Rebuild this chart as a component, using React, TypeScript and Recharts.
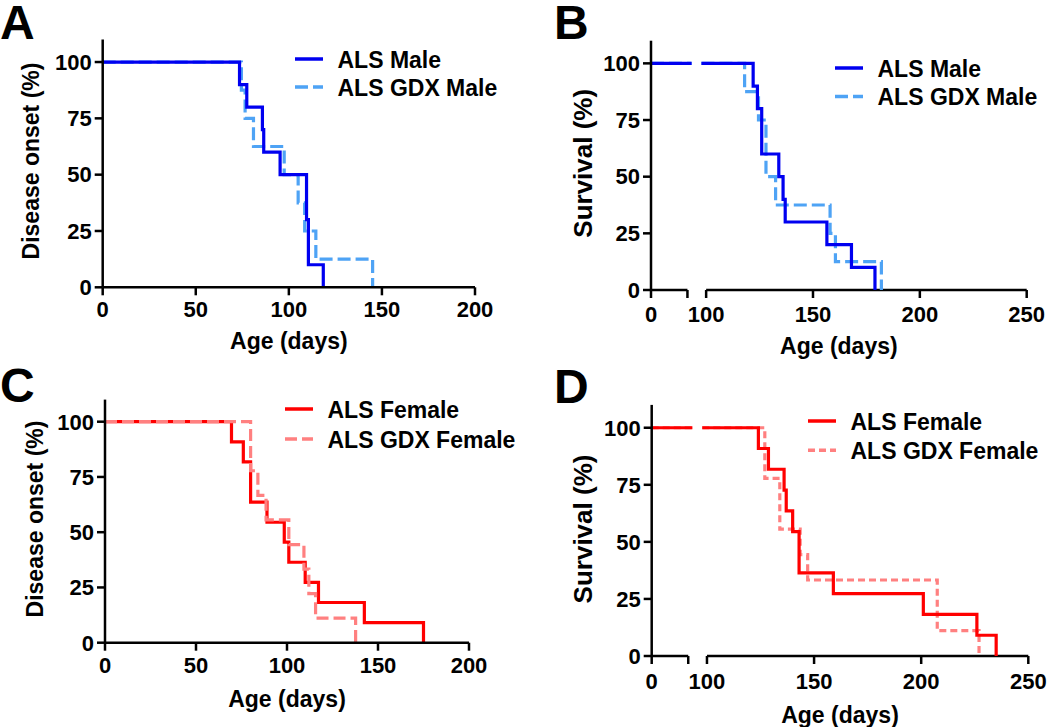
import React from 'react';
import { LineChart, Line, XAxis, YAxis, Legend, Label, ReferenceLine } from 'recharts';

const FONT = '"Liberation Sans", Arial, Helvetica, sans-serif';

// A – disease onset, males (age in days, % still without onset)
const onsetMaleDays = [0, 73.5, 77.4, 85.8, 86.5, 95.3, 109.5, 110.5, 118.5];
const onsetMalePct = [100, 90, 80, 70, 60, 50, 30, 10, 0];
const onsetGdxMaleDays = [0, 74.5, 76.5, 81, 97.5, 105, 108.5, 114.5, 145];
const onsetGdxMalePct = [100, 87.5, 75, 62.5, 50, 37.5, 25, 12.5, 0];

// B – survival, males
const survMaleDays = [0, 122, 124, 126, 134, 136, 137, 156.5, 168, 179];
const survMalePct = [100, 90, 80, 60, 50, 40, 30, 20, 10, 0];
const survGdxMaleDays = [0, 118, 124.5, 128, 132.5, 158, 160.5, 182];
const survGdxMalePct = [100, 87.5, 75, 50, 37.5, 25, 12.5, 0];

// C – disease onset, females
const onsetFemaleDays = [0, 69.5, 76, 80, 89, 98.5, 101, 110, 117.3, 142.5, 175];
const onsetFemalePct = [100, 90.9, 81.8, 63.6, 54.5, 45.5, 36.4, 27.3, 18.2, 9.1, 0];
const onsetGdxFemaleDays = [0, 80, 84, 88.5, 101, 109.3, 112, 115.7, 137.7];
const onsetGdxFemalePct = [100, 77.8, 66.7, 55.6, 44.4, 33.3, 22.2, 11.1, 0];

// D – survival, females
const survFemaleDays = [0, 124, 128.7, 136, 137, 140, 143, 159, 201, 226, 235];
const survFemalePct = [100, 90.9, 81.8, 72.7, 63.6, 54.5, 36.4, 27.3, 18.2, 9.1, 0];
const survGdxFemaleDays = [0, 127, 134, 143.5, 147, 207.5, 227];
const survGdxFemalePct = [100, 77.8, 55.6, 44.4, 33.3, 11.1, 0];

const yTicks = [0, 25, 50, 75, 100];
const onsetXTicks = [0, 50, 100, 150, 200];
const survXTicks = [100, 150, 200, 250];

// survival panels use a broken x axis: a short stub for day 0, then 100–250
const STUB_START = 74.2;
const STUB_END = 91.25;
const LINE_GAP = [93.2, 97.8];

const BLUE = '#0000f0';
const LIGHT_BLUE = '#4ea3f5';
const RED = '#ff0000';
const LIGHT_RED = '#ff8080';

type Pt = { x: number; y: number | null };

function kmPoints(days: number[], pct: number[], broken: boolean): Pt[] {
  const pts: Pt[] = days.map((d, i) => ({ x: d, y: pct[i] }));
  if (!broken) return pts;
  const [first, ...rest] = pts;
  return [
    { x: STUB_START, y: first.y },
    { x: LINE_GAP[0], y: first.y },
    { x: (LINE_GAP[0] + LINE_GAP[1]) / 2, y: null },
    { x: LINE_GAP[1], y: first.y },
    ...rest,
  ];
}

type Series = { name: string; days: number[]; pct: number[]; color: string; dash?: string };

type Panel = {
  letter: string;
  left: number;
  top: number;
  height: number;
  margin: { top: number; right: number; bottom: number; left: number };
  broken: boolean;
  yTitle: string;
  yTitleSize: number;
  yTitleX: number;
  yTitleY: number;
  xTitleY: number;
  xTickMargin: number;
  legendX: number;
  legendY: number;
  legendGap: number;
  solidOnTop: boolean;
  series: Series[];
};

const panels: Panel[] = [
  {
    letter: 'A', left: 0, top: 0, height: 363,
    margin: { top: 39.5, right: 50, bottom: 75.7, left: 102.7 },
    broken: false, yTitle: 'Disease onset (%)', yTitleSize: 23, yTitleX: 38.5, yTitleY: 161,
    xTitleY: 348.5, xTickMargin: 6, legendX: 295, legendY: 47.3, legendGap: 28, solidOnTop: true,
    series: [
      { name: 'ALS Male', days: onsetMaleDays, pct: onsetMalePct, color: BLUE },
      { name: 'ALS GDX Male', days: onsetGdxMaleDays, pct: onsetGdxMalePct, color: LIGHT_BLUE, dash: '13 5' },
    ],
  },
  {
    letter: 'B', left: 525, top: 0, height: 363,
    margin: { top: 40.7, right: 23.3, bottom: 73, left: 126 },
    broken: true, yTitle: 'Survival (%)', yTitleSize: 26, yTitleX: 67, yTitleY: 163.3,
    xTitleY: 353.5, xTickMargin: 8, legendX: 310, legendY: 56.3, legendGap: 28.4, solidOnTop: true,
    series: [
      { name: 'ALS Male', days: survMaleDays, pct: survMalePct, color: BLUE },
      { name: 'ALS GDX Male', days: survGdxMaleDays, pct: survGdxMalePct, color: LIGHT_BLUE, dash: '13 5' },
    ],
  },
  {
    letter: 'C', left: 0, top: 363, height: 364,
    margin: { top: 36.6, right: 56, bottom: 84.3, left: 105 },
    broken: false, yTitle: 'Disease onset (%)', yTitleSize: 23, yTitleX: 42.5, yTitleY: 156,
    xTitleY: 343.5, xTickMargin: 7, legendX: 285, legendY: 34.3, legendGap: 30, solidOnTop: false,
    series: [
      { name: 'ALS Female', days: onsetFemaleDays, pct: onsetFemalePct, color: RED },
      { name: 'ALS GDX Female', days: onsetGdxFemaleDays, pct: onsetGdxFemalePct, color: LIGHT_RED, dash: '12 5' },
    ],
  },
  {
    letter: 'D', left: 525, top: 363, height: 364,
    margin: { top: 41.9, right: 21.7, bottom: 71, left: 126.7 },
    broken: true, yTitle: 'Survival (%)', yTitleSize: 26, yTitleX: 67, yTitleY: 166,
    xTitleY: 360.2, xTickMargin: 9, legendX: 282.7, legendY: 45.7, legendGap: 29.3, solidOnTop: true,
    series: [
      { name: 'ALS Female', days: survFemaleDays, pct: survFemalePct, color: RED },
      { name: 'ALS GDX Female', days: survGdxFemaleDays, pct: survGdxFemalePct, color: LIGHT_RED, dash: '7 4' },
    ],
  },
];

const W = 525;
// axes get a 1px box; the plot margins below are reduced by that pixel
const AXIS_BOX = 1;
const tickStyle = { fill: '#000', fontSize: 22, fontWeight: 'bold' as const, fontFamily: FONT };
const axisStroke = { stroke: '#000', strokeWidth: 2.5 };

function LegendBox({ series, gap }: { series: Series[]; gap: number }) {
  return (
    <svg width={260} height={gap + 30} style={{ overflow: 'visible' }}>
      {series.map((s, i) => {
        const y = 12 + i * gap;
        return (
          <g key={s.name}>
            <line x1={0} x2={28} y1={y} y2={y} stroke={s.color} strokeWidth={3.5} strokeDasharray={s.dash} />
            <text x={42.5} y={y + 8.5} fontSize={23} fontWeight="bold" fontFamily={FONT} fill="#000">
              {s.name}
            </text>
          </g>
        );
      })}
    </svg>
  );
}

function KmPanel({ p }: { p: Panel }) {
  const xDomain = p.broken ? [STUB_START, 250] : [0, 200];
  const xTicks = p.broken ? [STUB_START, STUB_END, ...survXTicks] : onsetXTicks;
  const plotCenterX = (p.margin.left + (W - p.margin.right)) / 2;
  const drawn = p.solidOnTop ? [...p.series].reverse() : p.series;
  const margin = {
    top: p.margin.top,
    right: p.margin.right,
    left: p.margin.left - AXIS_BOX,
    bottom: p.margin.bottom - AXIS_BOX,
  };

  return (
    <div style={{ position: 'absolute', left: p.left, top: p.top }}>
      <LineChart width={W} height={p.height} margin={margin}>
        <XAxis
          type="number"
          dataKey="x"
          domain={xDomain}
          ticks={xTicks}
          interval={0}
          height={AXIS_BOX}
          tickSize={8}
          tickMargin={p.xTickMargin}
          tick={tickStyle}
          tickLine={axisStroke}
          axisLine={p.broken ? false : axisStroke}
          tickFormatter={(v: number) => (v === STUB_END ? '' : v < 100 && p.broken ? '0' : String(v))}
        >
          <Label
            content={() => (
              <text x={plotCenterX} y={p.xTitleY} textAnchor="middle" fontSize={23} fontWeight="bold" fontFamily={FONT} fill="#000">
                Age (days)
              </text>
            )}
          />
        </XAxis>
        <YAxis
          type="number"
          domain={[0, 110]}
          ticks={yTicks}
          interval={0}
          width={AXIS_BOX}
          tickSize={8}
          tickMargin={3}
          tick={tickStyle}
          tickLine={axisStroke}
          axisLine={axisStroke}
        >
          <Label
            content={() => (
              <text
                x={p.yTitleX}
                y={p.yTitleY}
                transform={`rotate(-90, ${p.yTitleX}, ${p.yTitleY})`}
                textAnchor="middle"
                fontSize={p.yTitleSize}
                fontWeight="bold"
                fontFamily={FONT}
                fill="#000"
              >
                {p.yTitle}
              </text>
            )}
          />
        </YAxis>
        {p.broken && (
          <ReferenceLine segment={[{ x: STUB_START, y: 0 }, { x: STUB_END, y: 0 }]} {...axisStroke} />
        )}
        {p.broken && <ReferenceLine segment={[{ x: 100, y: 0 }, { x: 250, y: 0 }]} {...axisStroke} />}
        {drawn.map((s) => (
          <Line
            key={s.name}
            data={kmPoints(s.days, s.pct, p.broken)}
            dataKey="y"
            name={s.name}
            type="stepAfter"
            stroke={s.color}
            strokeWidth={3.2}
            strokeDasharray={s.dash}
            dot={false}
            activeDot={false}
            connectNulls={false}
            isAnimationActive={false}
          />
        ))}
        <Legend
          layout="vertical"
          align="center"
          verticalAlign="middle"
          wrapperStyle={{ left: p.legendX, top: p.legendY, width: 260, height: p.legendGap + 30 }}
          content={() => <LegendBox series={p.series} gap={p.legendGap} />}
        />
      </LineChart>
    </div>
  );
}

export default function App() {
  return (
    <div style={{ position: 'absolute', left: 0, top: 0, width: 1050, height: 727, background: '#fff', fontFamily: FONT, overflow: 'hidden' }}>
      {panels.map((p) => (
        <KmPanel key={p.letter} p={p} />
      ))}
      <svg width={1050} height={727} style={{ position: 'absolute', left: 0, top: 0, pointerEvents: 'none' }}>
        <text x={0} y={39} fontSize={48} fontWeight="bold" fontFamily={FONT}>A</text>
        <text x={554} y={39} fontSize={48} fontWeight="bold" fontFamily={FONT}>B</text>
        <text x={0} y={402} fontSize={48} fontWeight="bold" fontFamily={FONT}>C</text>
        <text x={554} y={403} fontSize={48} fontWeight="bold" fontFamily={FONT}>D</text>
      </svg>
    </div>
  );
}
